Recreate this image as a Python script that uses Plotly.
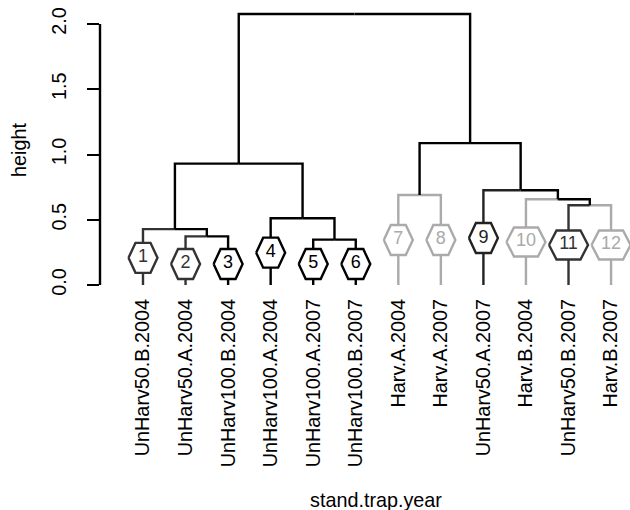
import plotly.graph_objects as go

# ---- data -------------------------------------------------------------
leaf_labels = ["UnHarv50.B.2004", "UnHarv50.A.2004", "UnHarv100.B.2004",
               "UnHarv100.A.2004", "UnHarv100.A.2007", "UnHarv100.B.2007",
               "Harv.A.2004", "Harv.A.2007", "UnHarv50.A.2007",
               "Harv.B.2004", "UnHarv50.B.2007", "Harv.B.2007"]
leaf_ids = [1, 2, 3, 4, 5, 6, 7, 8, 9, 10, 11, 12]
# height at which each numbered badge sits on its leaf branch
badge_heights = [0.208, 0.161, 0.161, 0.248, 0.161, 0.161,
                 0.345, 0.345, 0.360, 0.330, 0.307, 0.307]
leaf_colors = ["#333333", "#333333", "#000000", "#000000", "#000000", "#000000",
               "#aaaaaa", "#aaaaaa", "#222222", "#aaaaaa", "#333333", "#aaaaaa"]

# hclust-style merge table: negative = leaf (1-based, display order), positive = earlier merge
merge_left = [-11, -5, -2, -1, -4, -10, -7, -9, 4, 7, 9]
merge_right = [-12, -6, -3, 3, 2, 1, -8, 6, 5, 8, 10]
merge_height = [0.611, 0.348, 0.373, 0.428, 0.511, 0.657, 0.690, 0.726, 0.930, 1.087, 2.077]

y_ticks = [0.0, 0.5, 1.0, 1.5, 2.0]
y_tick_text = ["0.0", "0.5", "1.0", "1.5", "2.0"]

# ---- layout geometry ---------------------------------------------------
W, H = 630, 510
M_L, M_R, M_T, M_B = 100, 0, 8, 223
X_RANGE = [-0.0106, 12.445]
Y_RANGE = [-0.0153, 2.1226]
px_x = (W - M_L - M_R) / (X_RANGE[1] - X_RANGE[0])
px_y = (H - M_T - M_B) / (Y_RANGE[1] - Y_RANGE[0])

FONT = "Liberation Sans, Arial, Helvetica, sans-serif"
FS = 19.8
INTERNAL_COLOR = "#000000"
LW = 2.4

# ---- tree coordinates -------------------------------------------------
node_x = {}
node_h = {}
for i in range(len(leaf_ids)):
    node_x[-(i + 1)] = leaf_ids[i]
    node_h[-(i + 1)] = 0.0
for k in range(len(merge_height)):
    a, b = merge_left[k], merge_right[k]
    node_x[k + 1] = (node_x[a] + node_x[b]) / 2
    node_h[k + 1] = merge_height[k]


def edge_color(node):
    return leaf_colors[-node - 1] if node < 0 else INTERNAL_COLOR


segments = {}
for k in range(len(merge_height)):
    p = k + 1
    for c in (merge_left[k], merge_right[k]):
        col = edge_color(c)
        xs, ys = segments.setdefault(col, ([], []))
        xs += [node_x[p], node_x[c], node_x[c], None]
        ys += [node_h[p], node_h[p], node_h[c], None]

fig = go.Figure()
for col, (xs, ys) in segments.items():
    fig.add_trace(go.Scatter(x=xs, y=ys, mode="lines",
                             line=dict(color=col, width=LW),
                             hoverinfo="skip", showlegend=False))

# hexagonal badges with the leaf numbers
for i, lid in enumerate(leaf_ids):
    cx, cy = lid, badge_heights[i]
    if lid < 10:
        hw, fw, hh = 14.5, 7.5, 15.0
    else:
        hw, fw, hh = 19.5, 12.0, 14.5
    dx = [-hw, -fw, fw, hw, fw, -fw, -hw]
    dy = [0, hh, hh, 0, -hh, -hh, 0]
    fig.add_trace(go.Scatter(
        x=[cx + d / px_x for d in dx], y=[cy + d / px_y for d in dy],
        mode="lines", fill="toself", fillcolor="white",
        line=dict(color=leaf_colors[i], width=LW),
        hoverinfo="skip", showlegend=False))

fig.add_trace(go.Scatter(
    x=leaf_ids, y=badge_heights, mode="text",
    text=[str(v) for v in leaf_ids],
    textfont=dict(family=FONT, size=18, color=leaf_colors),
    textposition="middle center", hoverinfo="skip", showlegend=False))

# y axis line spans the tick range only
fig.add_shape(type="line", xref="paper", yref="y", x0=0, x1=0,
              y0=min(y_ticks), y1=max(y_ticks),
              line=dict(color="black", width=LW))

fig.update_layout(
    width=W, height=H,
    margin=dict(l=M_L, r=M_R, t=M_T, b=M_B, pad=0),
    paper_bgcolor="white", plot_bgcolor="white",
    font=dict(family=FONT, size=FS, color="black"),
    xaxis=dict(range=X_RANGE, showgrid=False, zeroline=False, showline=False,
               tickmode="array", tickvals=leaf_ids, ticktext=leaf_labels,
               tickangle=-90, ticks="", ticklabelstandoff=7,
               tickfont=dict(size=FS, color="black")),
    yaxis=dict(range=Y_RANGE, showgrid=False, zeroline=False, showline=False,
               tickmode="array", tickvals=y_ticks, ticktext=y_tick_text,
               ticks="outside", ticklen=12, tickwidth=LW, tickcolor="black",
               tickangle=-90, ticklabelstandoff=13,
               tickfont=dict(size=FS, color="black")),
    annotations=[
        dict(text="stand.trap.year", xref="paper", yref="paper",
             x=(376 - M_L) / (W - M_L - M_R), y=(H - M_B - 513) / (H - M_T - M_B),
             showarrow=False, xanchor="center", yanchor="bottom",
             font=dict(size=FS, color="black")),
        dict(text="height", xref="paper", yref="paper", textangle=-90,
             x=(19 - M_L) / (W - M_L - M_R), y=(H - M_B - 150) / (H - M_T - M_B),
             showarrow=False, xanchor="center", yanchor="middle",
             font=dict(size=FS, color="black")),
    ],
)

fig.write_html("out.html")
